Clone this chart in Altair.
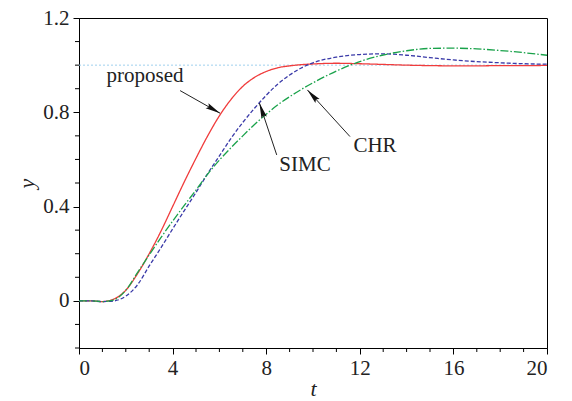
import math
import altair as alt
import pandas as pd

# ---- data ----
t_vals = [0, 0.5, 1, 1.5, 2, 2.5, 3, 3.5, 4, 4.5, 5, 5.5, 6, 6.5, 7, 7.5, 8, 8.5,
          9, 9.5, 10, 11, 12, 13, 14, 15, 16, 17, 18, 19, 20]
proposed = [0, 0, -0.003, 0.008, 0.045, 0.115, 0.20, 0.295, 0.40, 0.505, 0.605, 0.70,
            0.785, 0.855, 0.91, 0.948, 0.973, 0.989, 0.997, 1.002, 1.005, 1.008, 1.006,
            1.003, 1.0, 0.998, 0.997, 0.997, 0.998, 0.998, 0.999]
simc = [0, 0, -0.003, 0.0, 0.02, 0.068, 0.148, 0.225, 0.305, 0.383, 0.46, 0.54,
        0.615, 0.69, 0.757, 0.817, 0.872, 0.92, 0.958, 0.988, 1.01, 1.034, 1.045,
        1.048, 1.042, 1.032, 1.022, 1.015, 1.01, 1.006, 1.004]
chr_ = [0, 0, -0.003, 0.005, 0.045, 0.12, 0.195, 0.268, 0.338, 0.405, 0.47, 0.538,
        0.597, 0.65, 0.70, 0.748, 0.792, 0.832, 0.866, 0.897, 0.925, 0.975, 1.015,
        1.043, 1.061, 1.071, 1.072, 1.069, 1.062, 1.053, 1.042]

series_names = ["proposed", "SIMC", "CHR"]
series_colors = ["#f03c3c", "#3a3aa8", "#19a24a"]
series_dash = [[1, 0], [4, 2], [8, 2, 1.5, 2]]

setpoint = [1.0]

x_major = [0, 4, 8, 12, 16, 20]
x_minor = [v for v in range(0, 21) if v % 4 != 0]
y_major = [0, 0.4, 0.8, 1.2]
y_minor = [-0.2, -0.1, 0.1, 0.2, 0.3, 0.5, 0.6, 0.7, 0.9, 1.0, 1.1]

# annotations: label text, label position, arrow start, arrow tip
ann_text = ["proposed", "SIMC", "CHR"]
ann_tx = [2.82, 9.66, 12.65]
ann_ty = [0.955, 0.575, 0.655]
arr_x0 = [4.32, 8.45, 11.58]
arr_y0 = [0.892, 0.619, 0.697]
arr_x1 = [6.03, 7.71, 9.76]
arr_y1 = [0.796, 0.839, 0.895]

W, H = 468, 330
XD = [0, 20]
YD = [-0.2, 1.2]
FONT = "Liberation Serif"
HEAD_LEN = 15  # px

rows = []
for name, vals in zip(series_names, [proposed, simc, chr_]):
    for t, v in zip(t_vals, vals):
        rows.append({"t": t, "y": v, "series": name})
df = pd.DataFrame(rows)

xs = alt.Scale(domain=XD, nice=False, zero=False)
ys = alt.Scale(domain=YD, nice=False, zero=False)

common = dict(labelFont=FONT, labelFontSize=21, labelColor="#222",
              titleFont=FONT, titleFontSize=22, titleFontStyle="italic",
              titleFontWeight="normal", titleColor="#222",
              tickColor="black", domainColor="black", grid=False, tickSize=6)
XA = alt.Axis(values=x_major, titlePadding=0, labelPadding=3, **common)
YA = alt.Axis(values=y_major, titlePadding=4, labelPadding=4,
              labelExpr="datum.value == 0 ? '0' : format(datum.value, '.1f')", **common)


def X(field):
    return alt.X(field, scale=xs, axis=XA, title="t")


def Y(field):
    return alt.Y(field, scale=ys, axis=YA, title="y")


layers = []

# setpoint dotted line
sp = alt.Chart(pd.DataFrame({"y": setpoint})).mark_rule(
    color="#9fd0ee", strokeDash=[2, 2], strokeWidth=1
).encode(y=Y("y:Q"), x=alt.value(0), x2=alt.value(W))
layers.append(sp)

for name, col, dash in zip(series_names, series_colors, series_dash):
    ln = alt.Chart(df[df.series == name]).mark_line(
        color=col, strokeDash=dash, strokeWidth=1.3, interpolate="monotone"
    ).encode(x=X("t:Q"), y=Y("y:Q"))
    layers.append(ln)

# minor ticks
xm = alt.Chart(pd.DataFrame({"t": x_minor})).mark_rule(color="black", strokeWidth=1).encode(
    x=X("t:Q"), y=alt.value(H), y2=alt.value(H + 4))
ym = alt.Chart(pd.DataFrame({"y": y_minor})).mark_rule(color="black", strokeWidth=1).encode(
    y=Y("y:Q"), x=alt.value(0), x2=alt.value(-4))
layers += [xm, ym]

# arrows
px_t = W / (XD[1] - XD[0])
px_y = H / (YD[1] - YD[0])
angs, hx, hy = [], [], []
for a, b, c, d in zip(arr_x0, arr_y0, arr_x1, arr_y1):
    dx = (c - a) * px_t
    dy = -(d - b) * px_y
    n = math.hypot(dx, dy)
    angs.append(math.degrees(math.atan2(dx, -dy)) % 360)
    # centre of the arrowhead sits half a head length behind the tip
    hx.append(c - (dx / n) * (HEAD_LEN / 2) / px_t)
    hy.append(d + (dy / n) * (HEAD_LEN / 2) / px_y)
adf = pd.DataFrame({"x0": arr_x0, "y0": arr_y0, "x1": arr_x1, "y1": arr_y1, "ang": angs,
                    "hx": hx, "hy": hy,
                    "label": ann_text, "tx": ann_tx, "ty": ann_ty})
arr = alt.Chart(adf).mark_rule(color="#222", strokeWidth=1).encode(
    x=X("x0:Q"), y=Y("y0:Q"), x2="x1:Q", y2="y1:Q")
head = alt.Chart(adf).mark_point(
    shape="M0,-1L0.38,1L0,0.7L-0.38,1Z", filled=True, color="#111", opacity=1,
    size=HEAD_LEN * HEAD_LEN, strokeWidth=0
).encode(x=X("hx:Q"), y=Y("hy:Q"), angle=alt.Angle("ang:Q", scale=None))
txt = alt.Chart(adf).mark_text(font=FONT, fontSize=21, color="#222", align="center",
                               baseline="middle").encode(
    x=X("tx:Q"), y=Y("ty:Q"), text="label:N")
layers += [arr, head, txt]

chart = alt.layer(*layers).properties(
    width=W, height=H, background="white",
    padding={"left": 71, "top": 10, "right": 10, "bottom": 53},
    autosize=alt.AutoSizeParams(type="none"),
).configure(
    font=FONT,
    view=alt.ViewConfig(stroke="black", strokeWidth=1),
    axis=alt.AxisConfig(**common),
    style={"guide-label": {"font": FONT, "fontSize": 21},
           "guide-title": {"font": FONT, "fontSize": 22}},
)

chart.save("out.html", embed_options={"renderer": "svg", "actions": False})
